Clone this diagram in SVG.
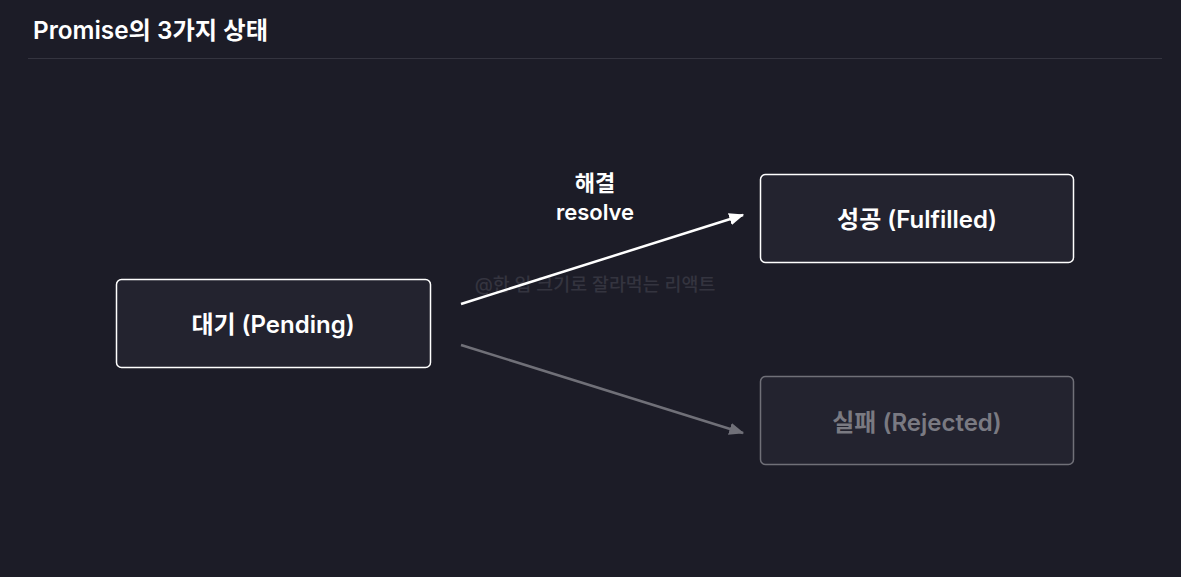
<svg xmlns="http://www.w3.org/2000/svg" width="1181" height="577" viewBox="0 0 1181 577">
<defs>
<style>
text{font-family:Inter,"Noto Sans CJK KR","Noto Sans",sans-serif;font-weight:600}
.box{fill:#23232f;stroke-width:1.5}
.lbl{font-size:24px;text-anchor:middle}
</style>
<marker id="aw" viewBox="0 0 12 10" refX="11" refY="5" markerWidth="6" markerHeight="5" markerUnits="strokeWidth" orient="auto"><path d="M0,0 L12,5 L0,10 Z" fill="#ffffff"/></marker>
<marker id="ag" viewBox="0 0 12 10" refX="11" refY="5" markerWidth="6" markerHeight="5" markerUnits="strokeWidth" orient="auto"><path d="M0,0 L12,5 L0,10 Z" fill="#707078"/></marker>
</defs>
<rect width="1181" height="577" fill="#1c1c27"/>
<g id="title">
<text x="33" y="38.5" font-size="24.3" fill="#ffffff">Promise의 3가지 상태</text>
<line x1="28" y1="58.5" x2="1162" y2="58.5" stroke="#34343f" stroke-width="1"/>
</g>
<text x="595" y="291" font-size="18.4" fill="#34343f" text-anchor="middle" style="font-weight:500">@한 입 크기로 잘라먹는 리액트</text>
<g id="connectors">
<line x1="461" y1="304" x2="743" y2="215" stroke="#ffffff" stroke-width="2.5" marker-end="url(#aw)"/>
<line x1="461" y1="345" x2="743" y2="433" stroke="#707078" stroke-width="2.5" marker-end="url(#ag)"/>
<text x="595" y="191" font-size="22" fill="#ffffff" text-anchor="middle">해결</text>
<text x="595" y="220" font-size="22" fill="#ffffff" text-anchor="middle">resolve</text>
</g>
<g id="pending">
<rect class="box" x="116.5" y="279.5" width="314" height="88" rx="5" stroke="#ffffff"/>
<text class="lbl" x="273" y="332.5" fill="#ffffff">대기 (Pending)</text>
</g>
<g id="fulfilled">
<rect class="box" x="760.5" y="174.5" width="313" height="88" rx="5" stroke="#ffffff"/>
<text class="lbl" x="917" y="227.5" fill="#ffffff">성공 (Fulfilled)</text>
</g>
<g id="rejected">
<rect class="box" x="760.5" y="376.5" width="313" height="88" rx="5" stroke="#707078"/>
<text class="lbl" x="917" y="430.5" fill="#7a7a82">실패 (Rejected)</text>
</g>
</svg>
